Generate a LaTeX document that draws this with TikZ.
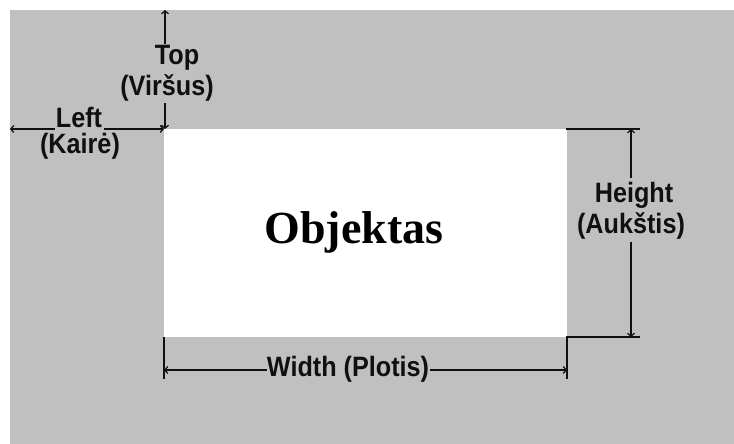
\documentclass[tikz,border=0pt]{standalone}
\usepackage{fontspec}
\usepackage{graphicx}
\setmainfont{Liberation Serif}
\newfontfamily\lblfont{Liberation Sans}
\usetikzlibrary{arrows.meta}
\definecolor{bggray}{HTML}{C0C0C0}
\definecolor{ink}{HTML}{101010}
\newcommand{\lbltext}[1]{\scalebox{0.9}[1]{#1}}
\tikzset{
  dim/.style={draw=ink, line width=1.6pt, line cap=rect},
  tip/.style={-{Straight Barb[length=3pt,width=7pt,line width=1.2pt]}},
  lbl/.style={inner sep=0pt, font=\lblfont\bfseries\fontsize{28}{30}\selectfont, text=ink},
  obj/.style={inner sep=0pt, font=\bfseries\fontsize{46}{50}\selectfont, text=black}
}
\begin{document}
\begin{tikzpicture}[x=1pt,y=-1pt]
\useasboundingbox (0,0) rectangle (734,444);
\fill[white] (0,0) rectangle (734,444);
\fill[bggray] (10,10) rectangle (734,444);
% object
\fill[white] (164,129) rectangle (567,337);
\node[obj] (objtext) at (354,232) {Objektas};
% coordinates
\coordinate (topA) at (165,10);
\coordinate (topB) at (165,129);
\coordinate (leftA) at (10,129);
\coordinate (leftB) at (164,129);
\coordinate (hA) at (631,129);
\coordinate (hB) at (631,337);
\coordinate (wA) at (164,370);
\coordinate (wB) at (567,370);
% labels
\node[lbl] (toplbl) at (177,58) {\lbltext{Top}};
\node[lbl] (topsub) at (167,88) {\lbltext{(Viršus)}};
\node[lbl] (leftlbl) at (79,117) {\lbltext{Left}};
\node[lbl] (leftsub) at (80,146) {\lbltext{(Kairė)}};
\node[lbl] (hlbl) at (634,195) {\lbltext{Height}};
\node[lbl] (hsub) at (631,226) {\lbltext{(Aukštis)}};
\node[lbl] (wlbl) at (348,369) {\lbltext{Width (Plotis)}};
% top
\draw[dim,tip] (topA |- toplbl.north) ++(0,-2) -- (topA);
\draw[dim,tip] (topB |- topsub.south) ++(0,2) -- (topB);
% left
\draw[dim,tip] (leftA -| leftlbl.west) ++(-2,0) -- (leftA);
\draw[dim,tip] (leftB -| leftlbl.east) ++(3,0) -- (leftB);
% height
\coordinate (hT1) at (567,129);
\coordinate (hT2) at (639,129);
\coordinate (hB1) at (567,337);
\coordinate (hB2) at (639,337);
\draw[dim] (hT1) -- (hT2);
\draw[dim] (hB1) -- (hB2);
\draw[dim,tip] (hA |- hlbl.north) ++(0,-4) -- (hA);
\draw[dim,tip] (hB |- hsub.south) ++(0,3) -- (hB);
% width
\coordinate (wL1) at (164,338);
\coordinate (wL2) at (164,378);
\coordinate (wR1) at (567,337);
\coordinate (wR2) at (567,378);
\draw[dim] (wL1) -- (wL2);
\draw[dim] (wR1) -- (wR2);
\draw[dim,tip] (wA -| wlbl.west) ++(-1,0) -- (wA);
\draw[dim,tip] (wB -| wlbl.east) ++(2,0) -- (wB);
\end{tikzpicture}
\end{document}
